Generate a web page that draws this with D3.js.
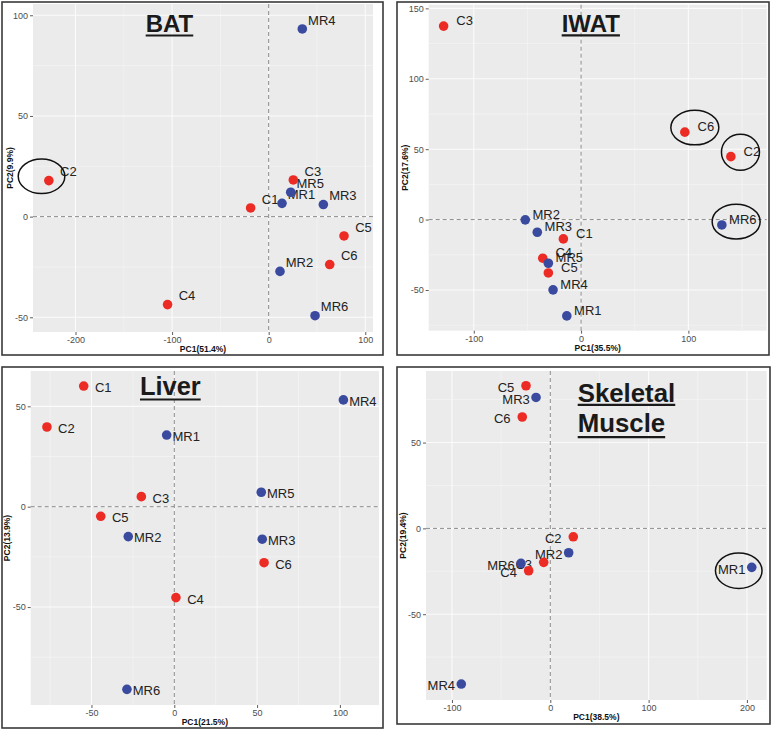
<!DOCTYPE html>
<html><head><meta charset="utf-8">
<script src="https://cdn.jsdelivr.net/npm/d3@7"></script>
<style>
body{margin:0;background:#fff;}
svg{display:block;font-family:"Liberation Sans",Arial,Helvetica,sans-serif;}
</style>
</head><body>
<svg id="chart" width="772" height="731"></svg>
<script>
// ---------------- DATA ----------------
const groupNames = ["Control", "MR"];
const groupColors = ["#ec2b25", "#3a4b9f"];

// BAT
const batSamples = ["C1","C2","C3","C4","C5","C6","MR1","MR2","MR3","MR4","MR5","MR6"];
const batPC1 = [-18.7,-227.6,25.5,-104.7,78.0,63.2,13.8,11.7,56.6,34.8,22.8,48.0];
const batPC2 = [4.3,17.9,18.2,-43.7,-9.6,-23.8,6.6,-27.2,6.0,93.2,12.1,-49.2];
const batXTicks = [-200,-100,0,100];
const batYTicks = [-50,0,50,100];
const batCircled = ["C2"];

// IWAT
const iwatSamples = ["C1","C2","C3","C4","C5","C6","MR1","MR2","MR3","MR4","MR5","MR6"];
const iwatPC1 = [-16.5,139.6,-128.1,-35.7,-30.5,96.7,-13.3,-52.0,-40.8,-26.1,-30.5,131.2];
const iwatPC2 = [-13.7,44.7,137.4,-27.4,-37.9,62.1,-68.4,-0.2,-9.0,-49.9,-31.0,-3.8];
const iwatXTicks = [-100,0,100];
const iwatYTicks = [-50,0,50,100,150];
const iwatCircled = ["C6","C2","MR6"];

// Liver
const liverSamples = ["C1","C2","C3","C4","C5","C6","MR1","MR2","MR3","MR4","MR5","MR6"];
const liverPC1 = [-54.7,-76.9,-19.9,1.0,-44.4,54.2,-4.6,-27.8,53.1,102.1,52.5,-28.6];
const liverPC2 = [60.1,39.7,5.0,-45.3,-4.8,-27.9,35.7,-14.9,-16.2,53.2,7.2,-91.0];
const liverXTicks = [-50,0,50,100];
const liverYTicks = [-50,0,50];
const liverCircled = [];

// Skeletal Muscle
const smSamples = ["C2","C3","C4","C5","C6","MR1","MR2","MR3","MR4","MR6"];
const smPC1 = [23.4,-6.7,-22.0,-24.7,-28.5,204.9,18.7,-14.5,-90.5,-29.8];
const smPC2 = [-4.9,-19.8,-24.7,83.1,64.9,-22.7,-14.2,76.3,-90.7,-20.4];
const smXTicks = [-100,0,100,200];
const smYTicks = [-50,0,50];
const smCircled = ["MR1"];

// ---------------- LAYOUT ----------------
const panels = [
  {samples: batSamples, pc1: batPC1, pc2: batPC2, xTicks: batXTicks, yTicks: batYTicks, circled: batCircled,
   xDomain: [-244,108], yDomain: [-57.3,105.6],
   frame: [2,2,383,355], plot: [33,4,373,332],
   xTitle: "PC1(51.4%)", yTitle: "PC2(9.9%)",
   labelDx: 19.5, labelDy: -4.2,
   ellipse: {dx: -7.3, dy: -4.3, rx: [23.3], ry: [17.3]},
   title: {lines: ["BAT"], x: 145.7, y: [31.7], size: 24, ul: [35.5]}},
  {samples: iwatSamples, pc1: iwatPC1, pc2: iwatPC2, xTicks: iwatXTicks, yTicks: iwatYTicks, circled: iwatCircled,
   xDomain: [-142,173], yDomain: [-78.9,152.6],
   frame: [397,2,769,355], plot: [428.7,4.7,766.7,330.7],
   xTitle: "PC1(35.5%)", yTitle: "PC2(17.6%)",
   labelDx: 21, labelDy: -1,
   ellipse: {dxs: [10, 9.6, 14.3], dys: [-4.6, -4.4, -3.3], rx: [24, 19, 24], ry: [17.3, 18, 17.3]},
   title: {lines: ["IWAT"], x: 561.7, y: [31.7], size: 24, ul: [35.3]}},
  {samples: liverSamples, pc1: liverPC1, pc2: liverPC2, xTicks: liverXTicks, yTicks: liverYTicks, circled: liverCircled,
   xDomain: [-86.7,123.6], yDomain: [-98.8,67.6],
   frame: [2,367,383,728], plot: [30.7,371,379,705],
   xTitle: "PC1(21.5%)", yTitle: "PC2(13.9%)",
   labelDx: 19.5, labelDy: 5.9,
   ellipse: null,
   title: {lines: ["Liver"], x: 140, y: [395], size: 25.4, ul: [399.5]}},
  {samples: smSamples, pc1: smPC1, pc2: smPC2, xTicks: smXTicks, yTicks: smYTicks, circled: smCircled,
   xDomain: [-126.4,220.1], yDomain: [-100,91.7],
   frame: [397,367,770,724], plot: [426,371,766.7,700],
   xTitle: "PC1(38.5%)", yTitle: "PC2(19.4%)",
   labelDx: -20, labelDy: 6.4,
   ellipse: {dxs: [-13], dys: [3.4], rx: [23.3], ry: [17.7]},
   title: {lines: ["Skeletal", "Muscle"], x: 577.7, y: [401.7, 432.3], size: 25.8, ul: [404.8, 437.2]}}
];

const svg = d3.select("#chart");
svg.append("rect").attr("width", 772).attr("height", 731).attr("fill", "#fff");

function minorTicks(ticks, domain) {
  const step = ticks[1] - ticks[0];
  const out = [];
  for (let v = ticks[0] - step / 2; v <= domain[1]; v += step) {
    if (v >= domain[0]) out.push(v);
  }
  return out;
}

const color = s => groupColors[s.startsWith("MR") ? 1 : 0];

panels.forEach(p => {
  const g = svg.append("g");
  const [x0, y0, x1, y1] = p.plot;
  const x = d3.scaleLinear().domain(p.xDomain).range([x0, x1]);
  const y = d3.scaleLinear().domain(p.yDomain).range([y1, y0]);

  // background
  g.append("rect").attr("x", x0).attr("y", y0).attr("width", x1 - x0).attr("height", y1 - y0).attr("fill", "#ebebeb");

  // minor grid
  minorTicks(p.xTicks, p.xDomain).forEach(v => g.append("line")
    .attr("x1", x(v)).attr("x2", x(v)).attr("y1", y0).attr("y2", y1)
    .attr("stroke", "#f6f6f6").attr("stroke-width", 0.6));
  minorTicks(p.yTicks, p.yDomain).forEach(v => g.append("line")
    .attr("x1", x0).attr("x2", x1).attr("y1", y(v)).attr("y2", y(v))
    .attr("stroke", "#f6f6f6").attr("stroke-width", 0.6));
  // major grid
  p.xTicks.forEach(v => g.append("line")
    .attr("x1", x(v)).attr("x2", x(v)).attr("y1", y0).attr("y2", y1)
    .attr("stroke", "#fbfbfb").attr("stroke-width", 1.1));
  p.yTicks.forEach(v => g.append("line")
    .attr("x1", x0).attr("x2", x1).attr("y1", y(v)).attr("y2", y(v))
    .attr("stroke", "#fbfbfb").attr("stroke-width", 1.1));

  // zero reference lines
  g.append("line").attr("x1", x(0)).attr("x2", x(0)).attr("y1", y0).attr("y2", y1)
    .attr("stroke", "#8a8a8a").attr("stroke-width", 1).attr("stroke-dasharray", "4,3");
  g.append("line").attr("x1", x0).attr("x2", x1).attr("y1", y(0)).attr("y2", y(0))
    .attr("stroke", "#8a8a8a").attr("stroke-width", 1).attr("stroke-dasharray", "4,3");

  const rows = p.samples.map((s, i) => ({s, a: p.pc1[i], b: p.pc2[i]}));

  // labels (under the points)
  g.selectAll("text.lab").data(rows).enter().append("text")
    .attr("class", "lab")
    .attr("x", d => x(d.a) + p.labelDx)
    .attr("y", d => y(d.b) + p.labelDy)
    .attr("text-anchor", "middle")
    .attr("font-size", 13)
    .attr("fill", "#222")
    .text(d => d.s);

  // points
  g.selectAll("circle.pt").data(rows).enter().append("circle")
    .attr("class", "pt")
    .attr("cx", d => x(d.a)).attr("cy", d => y(d.b)).attr("r", 4.8)
    .attr("fill", d => color(d.s));

  // ellipses around highlighted samples
  if (p.ellipse) {
    p.circled.forEach((s, k) => {
      const i = p.samples.indexOf(s);
      const dx = p.ellipse.dxs ? p.ellipse.dxs[k] : p.ellipse.dx;
      const dy = p.ellipse.dys ? p.ellipse.dys[k] : p.ellipse.dy;
      g.append("ellipse")
        .attr("cx", x(p.pc1[i]) + dx).attr("cy", y(p.pc2[i]) + dy)
        .attr("rx", p.ellipse.rx[k]).attr("ry", p.ellipse.ry[k])
        .attr("fill", "none").attr("stroke", "#111").attr("stroke-width", 1.5);
    });
  }

  // axes
  const ax = g.append("g").attr("transform", `translate(0,${y1})`)
    .call(d3.axisBottom(x).tickValues(p.xTicks).tickSize(3).tickPadding(2).tickFormat(d => String(d)));
  const ay = g.append("g").attr("transform", `translate(${x0},0)`)
    .call(d3.axisLeft(y).tickValues(p.yTicks).tickSize(3).tickPadding(2).tickFormat(d => String(d)));
  [ax, ay].forEach(a => {
    a.select(".domain").remove();
    a.selectAll(".tick line").attr("stroke", "#333").attr("stroke-width", 0.8);
    a.selectAll(".tick text").attr("fill", "#4d4d4d").attr("font-size", 9)
      .attr("font-family", "Liberation Sans, Arial, sans-serif");
  });

  // axis titles
  g.append("text").attr("x", (x0 + x1) / 2).attr("y", y1 + 20)
    .attr("text-anchor", "middle").attr("font-size", 8.5).attr("font-weight", "bold").attr("fill", "#111")
    .text(p.xTitle);
  g.append("text").attr("transform", `translate(${x0 - 20.3},${(y0 + y1) / 2}) rotate(-90)`)
    .attr("text-anchor", "middle").attr("font-size", 8.5).attr("font-weight", "bold").attr("fill", "#111")
    .text(p.yTitle);

  // panel title with underline
  p.title.lines.forEach((t, k) => {
    const tx = g.append("text").attr("x", p.title.x).attr("y", p.title.y[k])
      .attr("font-size", p.title.size).attr("font-weight", "bold").attr("fill", "#1a1a1a").text(t);
    const w = tx.node().getComputedTextLength();
    g.append("line").attr("x1", p.title.x).attr("x2", p.title.x + w)
      .attr("y1", p.title.ul[k]).attr("y2", p.title.ul[k])
      .attr("stroke", "#1a1a1a").attr("stroke-width", 2.2);
  });

  // frame
  const [fx0, fy0, fx1, fy1] = p.frame;
  g.append("rect").attr("x", fx0).attr("y", fy0).attr("width", fx1 - fx0).attr("height", fy1 - fy0)
    .attr("fill", "none").attr("stroke", "#3a3a3a").attr("stroke-width", 1.6);
});
</script>
</body></html>
